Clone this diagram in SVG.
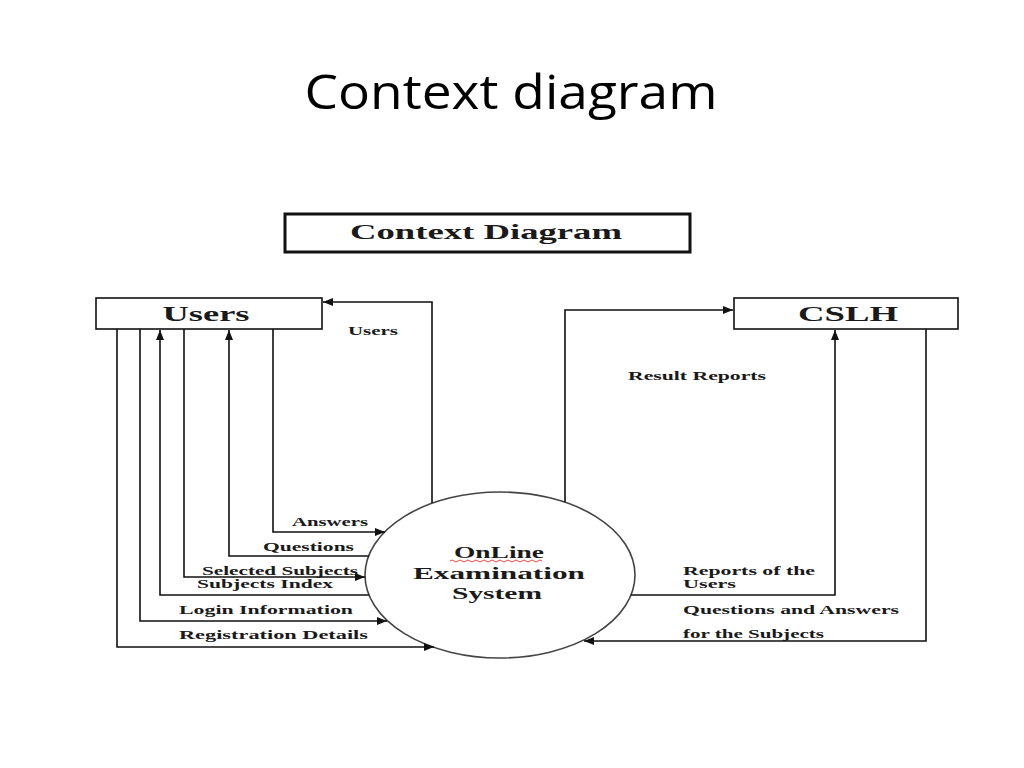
<svg xmlns="http://www.w3.org/2000/svg" width="1024" height="768" viewBox="0 0 1024 768">
<style>
.ln{fill:none;stroke:#111;stroke-width:1.6}
.bx{fill:#fff;stroke:#111;stroke-width:1.6}
.lb{font-family:"Liberation Serif","DejaVu Serif",serif;font-weight:bold;font-size:13.5px;fill:#1a1a1a}
.sm{font-size:12px}
.nt{font-family:"Liberation Serif","DejaVu Serif",serif;font-weight:bold;font-size:21px;fill:#1a1a1a}
.ct{font-family:"Liberation Serif","DejaVu Serif",serif;font-weight:bold;font-size:17px;fill:#1a1a1a}
</style>
<defs>
<marker id="ah" markerUnits="userSpaceOnUse" markerWidth="11" markerHeight="9" refX="10" refY="4" orient="auto">
<path d="M0,0 L10,4 L0,8 z" fill="#111"/>
</marker>
</defs>
<rect width="1024" height="768" fill="#fff"/>
<text x="511" y="109" text-anchor="middle" font-family="'Open Sans','Liberation Sans',sans-serif" font-size="47" fill="#000" textLength="413" lengthAdjust="spacingAndGlyphs">Context diagram</text>

<g id="title-box">
<rect x="285" y="214" width="405" height="38" fill="#fff" stroke="#111" stroke-width="3"/>
<text class="nt" x="486" y="239" text-anchor="middle" textLength="272" lengthAdjust="spacingAndGlyphs">Context Diagram</text>
</g>

<g id="users">
<rect class="bx" x="96" y="298" width="226" height="31"/>
<text class="nt" x="206" y="321" text-anchor="middle" textLength="87" lengthAdjust="spacingAndGlyphs">Users</text>
</g>

<g id="cslh">
<rect class="bx" x="734" y="298" width="224" height="31"/>
<text class="nt" x="848" y="321" text-anchor="middle" textLength="100" lengthAdjust="spacingAndGlyphs">CSLH</text>
</g>

<g id="system">
<ellipse cx="500" cy="575" rx="135" ry="83" fill="#fff" stroke="#444" stroke-width="1.6"/>
<text class="ct" x="499" y="558" text-anchor="middle" textLength="90" lengthAdjust="spacingAndGlyphs">OnLine</text>
<path d="M450,561 q2,-2 4,0 t4,0 t4,0 t4,0 t4,0 t4,0 t4,0 t4,0 t4,0 t4,0 t4,0 t4,0 t4,0 t4,0 t4,0 t4,0 t4,0 t4,0 t4,0 t4,0 t4,0 t4,0 t4,0" fill="none" stroke="#e03030" stroke-width="0.9"/>
<text class="ct" x="499" y="579" text-anchor="middle" textLength="172" lengthAdjust="spacingAndGlyphs">Examination</text>
<text class="ct" x="497" y="599" text-anchor="middle" textLength="90" lengthAdjust="spacingAndGlyphs">System</text>
</g>

<g id="connectors">
<path class="ln" d="M432,503 V302 H323" marker-end="url(#ah)"/>
<path class="ln" d="M273,329 V532 H385" marker-end="url(#ah)"/>
<path class="ln" d="M369,556 H229 V330" marker-end="url(#ah)"/>
<path class="ln" d="M184,329 V577 H365" marker-end="url(#ah)"/>
<path class="ln" d="M369,595 H160 V330" marker-end="url(#ah)"/>
<path class="ln" d="M140,329 V621 H387" marker-end="url(#ah)"/>
<path class="ln" d="M117,329 V647 H434" marker-end="url(#ah)"/>
<path class="ln" d="M565,502 V310 H733" marker-end="url(#ah)"/>
<path class="ln" d="M631,595 H835 V330" marker-end="url(#ah)"/>
<path class="ln" d="M926,329 V641 H584" marker-end="url(#ah)"/>
</g>

<g id="labels">
<text class="lb" x="348" y="335" textLength="50" lengthAdjust="spacingAndGlyphs">Users</text>
<text class="lb" x="628" y="380" textLength="138" lengthAdjust="spacingAndGlyphs">Result Reports</text>
<text class="lb" x="292" y="526" textLength="76" lengthAdjust="spacingAndGlyphs">Answers</text>
<text class="lb" x="263" y="551" textLength="91" lengthAdjust="spacingAndGlyphs">Questions</text>
<text class="lb" x="202" y="575" textLength="156" lengthAdjust="spacingAndGlyphs">Selected Subjects</text>
<text class="lb" x="197" y="588" textLength="136" lengthAdjust="spacingAndGlyphs">Subjects Index</text>
<text class="lb" x="179" y="614" textLength="174" lengthAdjust="spacingAndGlyphs">Login Information</text>
<text class="lb" x="179" y="639" textLength="189" lengthAdjust="spacingAndGlyphs">Registration Details</text>
<text class="lb sm" x="683" y="575" textLength="132" lengthAdjust="spacingAndGlyphs">Reports of the</text>
<text class="lb sm" x="683" y="588" textLength="53" lengthAdjust="spacingAndGlyphs">Users</text>
<text class="lb" x="683" y="614" textLength="216" lengthAdjust="spacingAndGlyphs">Questions and Answers</text>
<text class="lb" x="683" y="638" textLength="141" lengthAdjust="spacingAndGlyphs">for the Subjects</text>
</g>
</svg>
